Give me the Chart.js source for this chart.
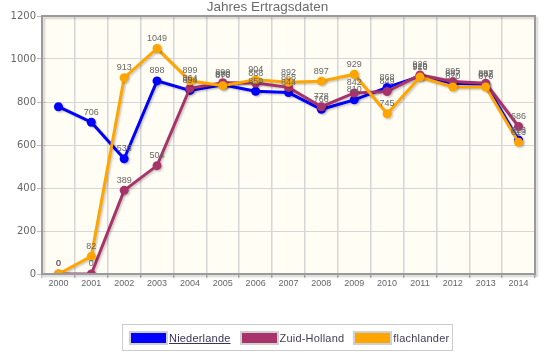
<!DOCTYPE html>
<html>
<head>
<meta charset="utf-8">
<script src="https://cdn.jsdelivr.net/npm/chart.js@4/dist/chart.umd.min.js"></script>
<style>
  html, body { margin: 0; padding: 0; background: #ffffff; }
  #wrap { position: relative; width: 544px; height: 357px; }
  #c { position: absolute; left: 0; top: 0; }
  #legend {
    position: absolute; left: 122px; top: 324px; width: 329px; height: 25px;
    border: 1px solid #cccccc; display: flex; align-items: center;
    font-family: "Liberation Sans", Arial, sans-serif; font-size: 11px; color: #443c55;
    box-sizing: content-box;
  }
  .item { display: flex; align-items: center; margin-left: 6px; margin-right: 3px; }
  .sw { width: 35px; height: 10px; border: 2px solid #d0d0d0; margin-right: 1px; }
  .lbl { white-space: nowrap; letter-spacing: 0.2px; }
  .lbl.link { text-decoration: underline; color: #38345a; }
</style>
</head>
<body>
<div id="wrap">
  <canvas id="c" width="544" height="357"></canvas>
  <div id="legend"></div>
</div>
<script>
const title = "Jahres Ertragsdaten";
const years = ["2000","2001","2002","2003","2004","2005","2006","2007","2008","2009","2010","2011","2012","2013","2014"];
const seriesNames = ["Niederlande", "Zuid-Holland", "flachlander"];
const seriesColors = ["#0000ff", "#a8336a", "#ffa500"];
const niederlande = [778, 706, 536, 898, 854, 880, 850, 844, 766, 810, 868, 920, 887, 882, 623];
const zuidHolland = [0, 0, 389, 504, 864, 890, 888, 868, 778, 842, 849, 926, 895, 887, 686];
const flachlander = [0, 82, 913, 1049, 899, 876, 904, 892, 897, 929, 745, 916, 870, 870, 613];
const yTicks = [0, 200, 400, 600, 800, 1000, 1200];
// labels not shown in the reference: [seriesIndex, pointIndex]
const hiddenLabels = [[0, 0]];

const seriesData = [niederlande, zuidHolland, flachlander];

// HTML legend
const legendEl = document.getElementById('legend');
seriesNames.forEach((n, i) => {
  const it = document.createElement('div'); it.className = 'item';
  const sw = document.createElement('div'); sw.className = 'sw'; sw.style.background = seriesColors[i];
  const lb = document.createElement('span'); lb.className = 'lbl' + (i === 0 ? ' link' : ''); lb.textContent = n;
  it.appendChild(sw); it.appendChild(lb); legendEl.appendChild(it);
});

const bgPlugin = {
  id: 'bg',
  beforeDraw(chart) {
    const {ctx, chartArea: a} = chart;
    ctx.save();
    ctx.fillStyle = '#fffdf4';
    ctx.fillRect(a.left, a.top, a.right - a.left, a.bottom - a.top);
    ctx.restore();
  },
  afterDatasetsDraw(chart) {
    const {ctx, chartArea: a} = chart;
    ctx.save();
    ctx.shadowColor = 'rgba(0,0,0,0.18)';
    ctx.shadowOffsetX = 2; ctx.shadowOffsetY = 2; ctx.shadowBlur = 2;
    ctx.strokeStyle = '#9a9a9a';
    ctx.lineWidth = 2;
    ctx.strokeRect(a.left, a.top, a.right - a.left, a.bottom - a.top);
    ctx.restore();
    // point labels
    ctx.save();
    ctx.font = '9px "Liberation Sans", Arial, sans-serif';
    ctx.fillStyle = '#666666';
    ctx.textAlign = 'center';
    ctx.textBaseline = 'middle';
    chart.data.datasets.forEach((ds, di) => {
      const meta = chart.getDatasetMeta(di);
      meta.data.forEach((pt, pi) => {
        if (hiddenLabels.some(h => h[0] === di && h[1] === pi)) return;
        ctx.fillText(String(ds.data[pi]), pt.x, pt.y - 10);
      });
    });
    ctx.restore();
  }
};

const shadowPlugin = {
  id: 'lineShadow',
  beforeDatasetDraw(chart) {
    const ctx = chart.ctx;
    ctx.save();
    ctx.shadowColor = 'rgba(0,0,0,0.2)';
    ctx.shadowOffsetX = 1.5; ctx.shadowOffsetY = 1.5; ctx.shadowBlur = 2;
  },
  afterDatasetDraw(chart) { chart.ctx.restore(); }
};

new Chart(document.getElementById('c'), {
  type: 'line',
  data: {
    labels: years,
    datasets: seriesData.map((d, i) => ({
      label: seriesNames[i],
      data: d,
      borderColor: seriesColors[i],
      backgroundColor: seriesColors[i],
      pointBackgroundColor: seriesColors[i],
      pointBorderColor: seriesColors[i],
      borderWidth: 3,
      pointRadius: 4.5,
      pointBorderWidth: 0,
      tension: 0,
      fill: false,
      order: seriesData.length - 1 - i
    }))
  },
  options: {
    responsive: false,
    animation: false,
    devicePixelRatio: 1,
    layout: { padding: { left: 0, right: 9, top: 0, bottom: 63 } },
    plugins: {
      legend: { display: false },
      tooltip: { enabled: false },
      title: {
        display: true, text: title, color: '#6a6a6a',
        font: { family: '"Liberation Sans", Arial, sans-serif', size: 13.5, weight: 'normal', lineHeight: 1 },
        padding: { top: 1, bottom: 1.5 }
      }
    },
    scales: {
      x: {
        type: 'category',
        offset: true,
        grid: { offset: true, color: '#d6d6d6', lineWidth: 1.5, tickLength: 4, tickColor: '#bbbbbb', drawOnChartArea: true },
        border: { display: false },
        ticks: { color: '#666666', font: { family: '"Liberation Sans", Arial, sans-serif', size: 9 }, padding: 0, maxRotation: 0, autoSkip: false },
        afterFit(s) { s.height = 20; }
      },
      y: {
        min: 0, max: 1200,
        afterBuildTicks(s) { s.ticks = yTicks.map(v => ({ value: v })); },
        grid: { color: '#d6d6d6', lineWidth: 1, tickLength: 5, tickColor: '#bbbbbb' },
        border: { display: false },
        ticks: {
          color: '#666666', font: { family: '"DejaVu Sans", sans-serif', size: 10 }, padding: 1,
          callback: (v) => String(v)
        },
        afterFit(s) { s.width = 42; }
      }
    }
  },
  plugins: [bgPlugin, shadowPlugin]
});
</script>
</body>
</html>
